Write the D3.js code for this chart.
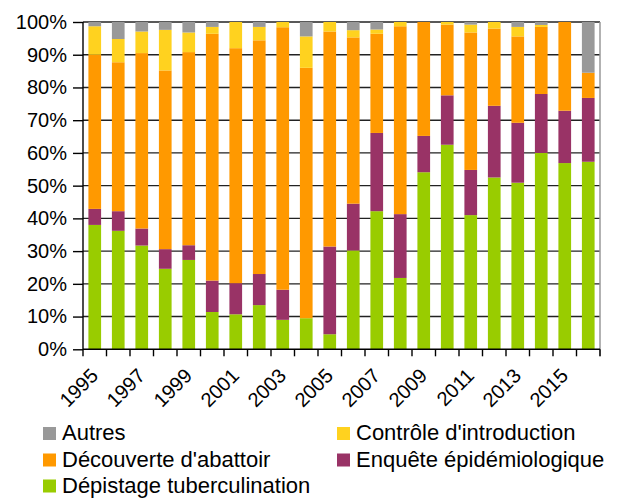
<!DOCTYPE html>
<html>
<head>
<meta charset="utf-8">
<script src="https://cdn.jsdelivr.net/npm/d3@7"></script>
<style>
    body { margin: 0; background: #fff; }
    svg text { font-family: "Liberation Sans", Arial, sans-serif; fill: #000; }
</style>
</head>
<body>
<div id="vis"></div>
<script>
// Data (percent of cases by detection mode) ---------------------------------
var years = ["1995", "1996", "1997", "1998", "1999", "2000", "2001", "2002", "2003", "2004", "2005",
    "2006", "2007", "2008", "2009", "2010", "2011", "2012", "2013", "2014", "2015", "2016"];

var depistage = [38.0, 36.2, 31.7, 24.6, 27.3, 11.4, 10.7, 13.5, 9.0, 9.5, 4.6,
    30.2, 42.2, 21.8, 54.1, 62.5, 41.0, 52.5, 50.9, 60.0, 56.9, 57.3];
var enquete = [4.9, 6.0, 5.2, 6.0, 4.5, 9.6, 9.5, 9.5, 9.2, 0, 26.8,
    14.3, 23.9, 19.5, 11.1, 15.1, 13.8, 21.9, 18.3, 18.0, 16.0, 19.5];
var abattoir = [47.1, 45.5, 53.6, 54.6, 59.0, 75.4, 71.8, 71.4, 80.2, 76.5, 65.7,
    50.8, 30.3, 57.4, 34.8, 21.6, 42.0, 23.6, 26.4, 20.5, 27.1, 7.7];
var introduction = [8.7, 7.1, 6.6, 12.4, 6.0, 2.1, 8.0, 4.1, 1.6, 9.6, 2.9,
    2.2, 1.3, 1.3, 0, 0.8, 2.4, 2.0, 2.9, 0.6, 0, 0];
var autres = [1.3, 5.2, 2.9, 2.4, 3.2, 1.5, 0, 1.5, 0, 4.4, 0,
    2.5, 2.3, 0, 0, 0, 0.8, 0, 1.5, 0.9, 0, 15.5];

var yTicks = [0, 10, 20, 30, 40, 50, 60, 70, 80, 90, 100];
var xLabels = ["1995", "1997", "1999", "2001", "2003", "2005", "2007", "2009", "2011", "2013", "2015"];

var keys = ["depistage", "enquete", "abattoir", "introduction", "autres"];
var names = {
    autres: "Autres",
    introduction: "Contrôle d'introduction",
    abattoir: "Découverte d'abattoir",
    enquete: "Enquête épidémiologique",
    depistage: "Dépistage tuberculination"
};
var colors = {
    depistage: "#99cc00",
    enquete: "#993366",
    abattoir: "#ff9900",
    introduction: "#ffd21f",
    autres: "#999999"
};

var table = years.map(function(y, i) {
    return {
        year: y,
        depistage: depistage[i],
        enquete: enquete[i],
        abattoir: abattoir[i],
        introduction: introduction[i],
        autres: autres[i]
    };
});

// Layout ---------------------------------------------------------------------
var W = 618, H = 499;
var plot = { left: 83, right: 600, top: 22, bottom: 349.3 };

var svg = d3.select("#vis").append("svg")
    .attr("width", W)
    .attr("height", H);

var x = d3.scaleBand()
    .domain(years)
    .range([plot.left, plot.right])
    .paddingInner(0.46)
    .paddingOuter(0.23);
var y = d3.scaleLinear()
    .domain([0, 100])
    .range([plot.bottom, plot.top]);

// gridlines
svg.append("g")
    .selectAll("line")
    .data(yTicks.slice(1))
    .enter().append("line")
    .attr("x1", plot.left)
    .attr("x2", plot.right)
    .attr("y1", function(d) { return y(d); })
    .attr("y2", function(d) { return y(d); })
    .attr("stroke", "#222")
    .attr("stroke-width", 1.4);

// right border
svg.append("line")
    .attr("x1", plot.right).attr("x2", plot.right)
    .attr("y1", plot.top).attr("y2", plot.bottom + 7)
    .attr("stroke", "#999")
    .attr("stroke-width", 1.5);

// stacked bars
var series = d3.stack().keys(keys)(table);

svg.append("g")
    .selectAll("g")
    .data(series)
    .enter().append("g")
    .attr("fill", function(d) { return colors[d.key]; })
    .selectAll("rect")
    .data(function(d) { return d; })
    .enter().append("rect")
    .attr("x", function(d) { return x(d.data.year); })
    .attr("width", x.bandwidth())
    .attr("y", function(d) { return y(d[1]); })
    .attr("height", function(d) { return y(d[0]) - y(d[1]); });

// y axis
var yAxis = svg.append("g")
    .attr("transform", "translate(" + plot.left + ",0)")
    .call(d3.axisLeft(y).tickValues(yTicks).tickSize(10).tickPadding(6)
        .tickFormat(function(d) { return d + "%"; }));
yAxis.select(".domain").attr("d", "M0," + plot.top + "V" + (plot.bottom + 7)).attr("stroke", "#000").attr("stroke-width", 1.4);
yAxis.selectAll(".tick line").attr("stroke", "#000").attr("stroke-width", 1.4);
yAxis.selectAll(".tick text").style("font-size", "20px").attr("fill", "#000");

// x axis: ticks at band boundaries
var xAxis = svg.append("g");
xAxis.append("line")
    .attr("x1", plot.left).attr("x2", plot.right)
    .attr("y1", plot.bottom).attr("y2", plot.bottom)
    .attr("stroke", "#000").attr("stroke-width", 1.4);
var step = x.step();
xAxis.selectAll(".xt")
    .data(years)
    .enter().append("line")
    .attr("class", "xt")
    .attr("x1", function(d) { return x(d) - x.paddingOuter() * step + step; })
    .attr("x2", function(d) { return x(d) - x.paddingOuter() * step + step; })
    .attr("y1", plot.bottom)
    .attr("y2", plot.bottom + 7)
    .attr("stroke", "#000")
    .attr("stroke-width", 1.4);

xAxis.selectAll(".xl")
    .data(xLabels)
    .enter().append("text")
    .attr("class", "xl")
    .attr("transform", function(d) {
        return "translate(" + (x(d) + x.bandwidth() / 2 - 6) + "," + (plot.bottom + 17) + ") rotate(-45)";
    })
    .attr("text-anchor", "end")
    .attr("dy", "0.75em")
    .style("font-size", "20px")
    .text(function(d) { return d; });

// legend
var legendItems = [
    { key: "autres", col: 0, row: 0 },
    { key: "abattoir", col: 0, row: 1 },
    { key: "depistage", col: 0, row: 2 },
    { key: "introduction", col: 1, row: 0 },
    { key: "enquete", col: 1, row: 1 }
];
var colX = [43, 337], rowY = [440, 466.5, 492.5];

var legend = svg.append("g")
    .selectAll("g")
    .data(legendItems)
    .enter().append("g")
    .attr("transform", function(d) { return "translate(" + colX[d.col] + "," + rowY[d.row] + ")"; });

legend.append("rect")
    .attr("x", 0)
    .attr("y", -13)
    .attr("width", 13)
    .attr("height", 13)
    .attr("fill", function(d) { return colors[d.key]; });

legend.append("text")
    .attr("x", 19)
    .attr("y", 0)
    .style("font-size", "22px")
    .text(function(d) { return names[d.key]; });
</script>
</body>
</html>
